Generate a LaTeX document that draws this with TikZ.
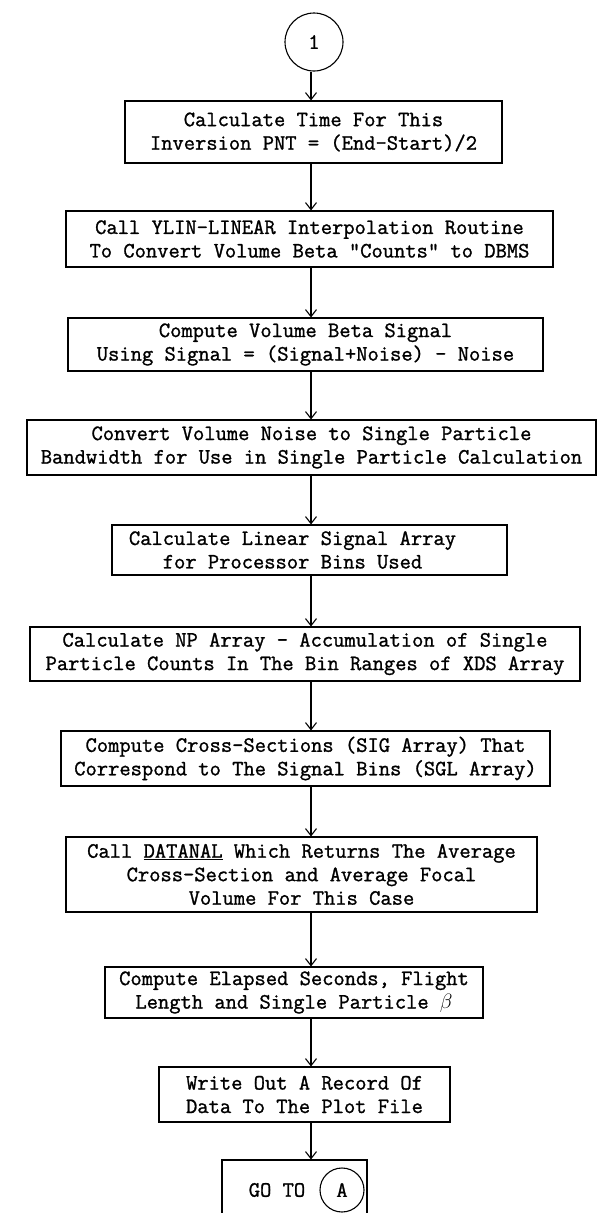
\documentclass[tikz,border=0pt]{standalone}
\usepackage{fontspec}
\newfontfamily\tw{Latin Modern Mono}[FakeBold=1.2]
\usetikzlibrary{arrows.meta}
\begin{document}
\begin{tikzpicture}[x=1pt,y=-1pt,
  proc/.style={draw, line width=1.1pt, align=center, inner sep=0pt,
    font=\tw\fontsize{21.9}{23.5}\selectfont},
  conn/.style={circle, draw, line width=1.1pt, inner sep=0pt,
    font=\tw\fontsize{21.9}{23.5}\selectfont},
  arr/.style={line width=1.1pt, -{Straight Barb[length=7pt,width=11pt,line width=1.1pt]}}]
\clip (0,0) rectangle (599,1213);
\fill[white] (0,0) rectangle (599,1213);
\coordinate (spine) at (311,0);

\node[conn, minimum size=58pt] (c1) at (314,42) {1};
\node[proc, minimum width=377pt, minimum height=62pt] (b1) at (313.5,132)
  {Calculate Time For This\\Inversion PNT = (End-Start)/2};
\node[proc, minimum width=487pt, minimum height=56pt] (b2) at (309.5,239)
  {Call YLIN-LINEAR Interpolation Routine\\To Convert Volume Beta "Counts" to DBMS};
\node[proc, minimum width=475pt, minimum height=53pt] (b3) at (305.5,344.5)
  {Compute Volume Beta Signal\\Using Signal = (Signal+Noise) - Noise};
\node[proc, minimum width=569pt, minimum height=55pt] (b4) at (311.5,447.5)
  {Convert Volume Noise to Single Particle\\Bandwidth for Use in Single Particle Calculation};
\node[proc, minimum width=395pt, minimum height=50pt] (b5) at (309.5,550)
  {Calculate Linear Signal Array\hspace*{34pt}\\for Processor Bins Used\hspace*{34pt}};
\node[proc, minimum width=550pt, minimum height=54pt] (b6) at (305,654)
  {Calculate NP Array - Accumulation of Single\\Particle Counts In The Bin Ranges of XDS Array};
\node[proc, minimum width=489pt, minimum height=55pt] (b7) at (305.5,758.5)
  {Compute Cross-Sections (SIG Array) That\\Correspond to The Signal Bins (SGL Array)};
\node[proc, minimum width=471pt, minimum height=75pt] (b8) at (301.5,874.5)
  {Call \underline{DATANAL} Which Returns The Average\\Cross-Section and Average Focal\\Volume For This Case};
\node[proc, minimum width=378pt, minimum height=51pt] (b9) at (294,992.5)
  {Compute Elapsed Seconds, Flight\\Length and Single Particle $\beta$};
\node[proc, minimum width=291pt, minimum height=55pt] (b10) at (304.5,1094.5)
  {Write Out A Record Of\\Data To The Plot File};
\node[draw, line width=1.1pt, minimum width=145pt, minimum height=58pt, inner sep=0pt] (b11) at (294.5,1189) {};
\node[inner sep=0pt, font=\tw\fontsize{21.9}{23.5}\selectfont] (goto) at (277,1190) {GO TO};
\node[conn, minimum size=44pt] (ca) at (342,1190) {A};

\draw[arr] (c1.south -| spine) -- (b1.north -| spine);
\draw[arr] (b1.south -| spine) -- (b2.north -| spine);
\draw[arr] (b2.south -| spine) -- (b3.north -| spine);
\draw[arr] (b3.south -| spine) -- (b4.north -| spine);
\draw[arr] (b4.south -| spine) -- (b5.north -| spine);
\draw[arr] (b5.south -| spine) -- (b6.north -| spine);
\draw[arr] (b6.south -| spine) -- (b7.north -| spine);
\draw[arr] (b7.south -| spine) -- (b8.north -| spine);
\draw[arr] (b8.south -| spine) -- (b9.north -| spine);
\draw[arr] (b9.south -| spine) -- (b10.north -| spine);
\draw[arr] (b10.south -| spine) -- (b11.north -| spine);
\end{tikzpicture}
\end{document}
